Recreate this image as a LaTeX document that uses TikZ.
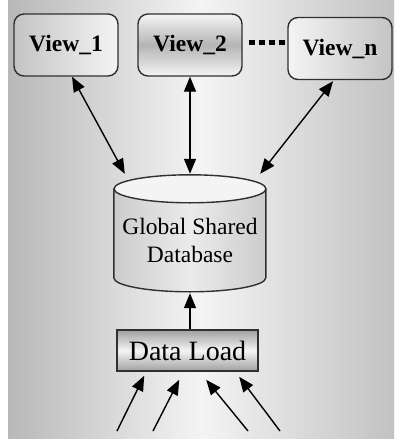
\documentclass[tikz,border=0pt]{standalone}
\usepackage{fontspec}
\setmainfont{Liberation Serif}
\usetikzlibrary{arrows.meta,calc}

\definecolor{bgedgeL}{RGB}{184,184,184}
\definecolor{bgmid}{RGB}{244,244,244}
\definecolor{bgedgeR}{RGB}{194,194,194}
\definecolor{boxdark}{RGB}{196,196,196}
\definecolor{boxlight}{RGB}{244,244,244}
\definecolor{loaddark}{RGB}{160,160,160}
\definecolor{outline}{RGB}{48,48,48}
\definecolor{dbbody}{RGB}{222,222,222}
\definecolor{dbtop}{RGB}{244,244,244}

\tikzset{
  viewbox/.style={draw=outline, line width=1.4pt, rounded corners=10pt,
    minimum width=104pt, minimum height=62pt, inner sep=0pt,
    font=\fontsize{23.5}{26}\selectfont\bfseries},
  loadbox/.style={draw=outline, line width=1.6pt,
    minimum width=141pt, minimum height=41pt, inner sep=0pt,
    top color=loaddark, bottom color=loaddark, middle color=boxlight,
    font=\fontsize{28}{30}\selectfont},
  dbtext/.style={draw=none, minimum width=152pt, minimum height=117pt,
    inner sep=0pt, align=center, font=\fontsize{23.5}{28}\selectfont},
  tip/.style={-{Triangle[length=15pt,width=12pt]}},
  biarrow/.style={{Triangle[length=15pt,width=12pt]}-{Triangle[length=15pt,width=12pt]}, line width=1.4pt},
  uparrow/.style={tip, line width=1.4pt},
}

\begin{document}
\begin{tikzpicture}[x=1pt,y=-1pt]
  \useasboundingbox (0,0) rectangle (394,439);
  % background band with a horizontal grey shading
  \fill[left color=bgedgeL, right color=bgedgeR, middle color=bgmid]
    (8,0) rectangle (394,439);

  % view boxes
  \node[viewbox, left color=boxdark, right color=boxlight] (v1) at (66,45) {View\_1};
  \node[viewbox, top color=boxlight, bottom color=boxlight, middle color=boxdark!92!black] (v2) at (190,45) {View\_2};
  \node[viewbox, left color=boxlight, right color=boxdark] (vn) at (340,48.5) {View\_n};
  \draw[line width=5pt, dash pattern=on 6pt off 4pt] (v2.east) ++(6,-2.5) coordinate (dotsA) -- ++(36,0);

  % shared database cylinder
  \node[dbtext] (db) at (190,233.5) {};
  \fill[left color=dbbody!92!black, right color=dbbody!92!black, middle color=dbbody!60!white]
    (db.north west) ++(0,14) -- ++(0,89) arc[start angle=180, end angle=360, x radius=76pt, y radius=14pt]
    -- ++(0,-89) -- cycle;
  \draw[outline, line width=1.4pt]
    (db.north west) ++(0,14) -- ++(0,89) arc[start angle=180, end angle=360, x radius=76pt, y radius=14pt]
    -- ++(0,-89);
  \draw[outline, line width=1.4pt, fill=dbtop]
    ($(db.north)+(0,14)$) ellipse[x radius=76pt, y radius=14pt];
  \node[dbtext] (dblabel) at ($(db)+(0,7)$) {Global Shared\\Database};

  % data load box
  \node[loadbox] (load) at (187.5,350.5) {Data Load};

  % connectors between views and database
  \draw[biarrow] ($(v1.south)+(6,0)$) -- ($(db.north west)+(11,-1)$);
  \draw[biarrow] (v2.south) -- ($(db.north)+(0,-1)$);
  \draw[biarrow] ($(vn.south)+(-7,1)$) -- ($(db.north east)+(-6,-1)$);
  \draw[uparrow] (load.north -| db.south) -- ($(db.south)+(0,1)$);

  % incoming data feeds
  \coordinate (f1) at (117,431);
  \coordinate (f2) at (153,431);
  \coordinate (f3) at (248,431);
  \coordinate (f4) at (280,431);
  \draw[uparrow] (f1) -- ($(load.south west)+(28,4)$);
  \draw[uparrow] (f2) -- ($(load.south west)+(63,8)$);
  \draw[uparrow] (f3) -- ($(load.south west)+(90,8)$);
  \draw[uparrow] (f4) -- ($(load.south west)+(123,5)$);
\end{tikzpicture}
\end{document}
